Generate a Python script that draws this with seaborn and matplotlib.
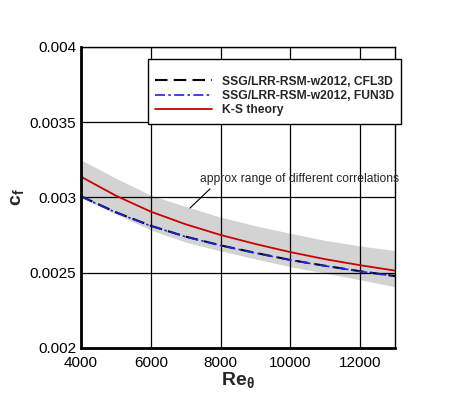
import numpy as np
import pandas as pd
import matplotlib
matplotlib.use('Agg')
import matplotlib.pyplot as plt
from matplotlib.ticker import MultipleLocator
import seaborn as sns

# valores
re_theta = [4000, 5000, 6000, 7000, 8000, 9000, 10000, 11000, 12000, 13000]
cf_ks = [0.003138, 0.003012, 0.002906, 0.002822, 0.002751, 0.002691, 0.002637, 0.002590, 0.002550, 0.002514]
cf_cfl3d = [0.003008, 0.002902, 0.002812, 0.002740, 0.002682, 0.002632, 0.002585, 0.002546, 0.002510, 0.002478]
cf_fun3d = [0.003006, 0.002900, 0.002811, 0.002739, 0.002681, 0.002631, 0.002584, 0.002545, 0.002509, 0.002477]
band_upper = [0.003250, 0.003128, 0.003015, 0.002940, 0.002870, 0.002812, 0.002762, 0.002715, 0.002678, 0.002647]
band_lower = [0.002999, 0.002890, 0.002784, 0.002703, 0.002645, 0.002592, 0.002540, 0.002498, 0.002453, 0.002407]

labels = ['SSG/LRR-RSM-w2012, CFL3D', 'SSG/LRR-RSM-w2012, FUN3D', 'K-S theory']

sns.set_style('white')
plt.rcParams['font.family'] = ['Liberation Sans', 'DejaVu Sans']
plt.rcParams['mathtext.fontset'] = 'custom'
plt.rcParams['mathtext.rm'] = 'Liberation Sans'
plt.rcParams['mathtext.bf'] = 'Liberation Sans:bold'

fig = plt.figure(figsize=(4.5, 4.01), dpi=100)
ax = fig.add_axes([0.18, 0.1322, 0.6978, 0.7506])

ax.fill_between(re_theta, band_lower, band_upper, color='#d3d3d3', lw=0, zorder=1)

sns.lineplot(x=re_theta, y=cf_cfl3d, ax=ax, color='black', lw=1.5, linestyle=(0, (6, 3)), label=labels[0], zorder=3)
sns.lineplot(x=re_theta, y=cf_fun3d, ax=ax, color='#2020ee', lw=1.2, linestyle=(0, (6, 2, 1.5, 2)), label=labels[1], zorder=4)
sns.lineplot(x=re_theta, y=cf_ks, ax=ax, color='#cc0000', lw=1.3, label=labels[2], zorder=3)

ax.set_xlim(4000, 13000)
ax.set_ylim(0.002, 0.004)
ax.xaxis.set_major_locator(MultipleLocator(2000))
ax.xaxis.set_minor_locator(MultipleLocator(400))
ax.yaxis.set_major_locator(MultipleLocator(0.0005))
ax.yaxis.set_minor_locator(MultipleLocator(0.0001))
ax.grid(True, which='major', color='black', lw=0.9, zorder=2)
ax.set_axisbelow(False)
ax.tick_params(which='both', direction='in', top=False, right=False, labelsize=11, colors='black')
ax.tick_params(which='major', length=7, width=1)
ax.tick_params(which='minor', length=5, width=1)
ax.tick_params(axis='x', pad=6)
ax.yaxis.set_major_formatter(matplotlib.ticker.FuncFormatter(lambda v, p: ('%.4f' % v).rstrip('0')))

for s in ['left', 'bottom']:
    ax.spines[s].set_linewidth(2)
for s in ['top', 'right']:
    ax.spines[s].set_linewidth(1)
for s in ax.spines.values():
    s.set_color('black')
    s.set_zorder(5)

ax.set_xlabel(r'$\mathbf{Re}_{\mathbf{\theta}}$', fontsize=14, labelpad=0)
ax.set_ylabel(r'$\mathbf{c}_{\mathbf{f}}$', fontsize=14, labelpad=2)

ax.annotate('', xy=(7067, 0.002917), xytext=(7755, 0.00307),
            arrowprops=dict(arrowstyle='-', color='black', lw=0.8), zorder=6)
ax.text(7411, 0.003123, 'approx range of different correlations', fontsize=8.7,
        ha='left', va='center', zorder=6)

leg = ax.legend(loc='upper left', bbox_to_anchor=(0.329, 0.853), bbox_transform=fig.transFigure,
                frameon=True, fancybox=False, framealpha=1, edgecolor='black',
                prop={'weight': 'bold', 'size': 8.7}, handlelength=4.7, handletextpad=0.8,
                labelspacing=0.2, borderpad=0.6, borderaxespad=0,
                title=' ', title_fontsize=5)
leg.get_frame().set_linewidth(1)
leg.set_zorder(7)

plt.savefig('out.png', dpi=100)
